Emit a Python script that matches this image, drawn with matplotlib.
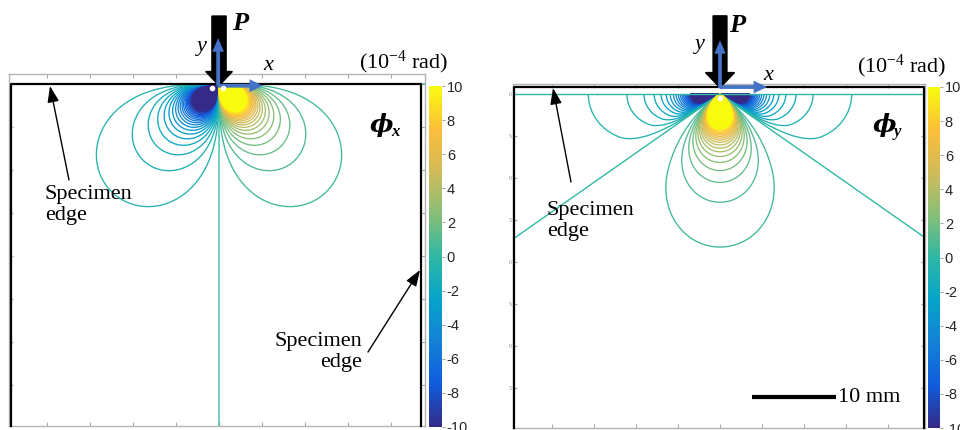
import numpy as np
import matplotlib.pyplot as plt
from matplotlib.colors import LinearSegmentedColormap, Normalize
from matplotlib.patches import FancyArrowPatch
import matplotlib.cm as cm

plt.rcParams['font.family'] = ['Liberation Serif', 'DejaVu Serif']
plt.rcParams['mathtext.fontset'] = 'custom'
plt.rcParams['mathtext.rm'] = 'Liberation Serif'
plt.rcParams['mathtext.it'] = 'Liberation Serif:italic'
plt.rcParams['axes.unicode_minus'] = False

# colour scale (10^-4 rad)
cbar_ticks = [-10, -8, -6, -4, -2, 0, 2, 4, 6, 8, 10]
phi_lim = 10.0
contour_levels = [-10.0, -9.5, -9.0, -8.5, -8.0, -7.5, -7.0, -6.5, -6.0, -5.5,
                  -5.0, -4.5, -4.0, -3.5, -3.0, -2.5, -2.0, -1.5, -1.0, -0.5,
                  0.0, 0.5, 1.0, 1.5, 2.0, 2.5, 3.0, 3.5, 4.0, 4.5, 5.0, 5.5,
                  6.0, 6.5, 7.0, 7.5, 8.0, 8.5, 9.0, 9.5, 10.0]

# point-load rotation fields, constants (mm^2 * 1e-4 rad)
Bx = 313.0            # phi_x = Bx * x*d / r^4
Ay = 166.0            # phi_y = Ay * f(angle) / r^2
neg_scale_y = 0.74    # weaker lobes along the loaded edge
zero_angle_y = 35.0   # deg below the edge where phi_y changes sign
warp_neg = 12.0       # deg
warp_pos = 20.0       # deg

# specimen edges (mm), depth measured downwards from the loaded edge
spec_left = [-24.2, -24.52]
spec_right = [23.5, 24.29]
spec_top = [0.0, -0.83]
xlims = [(-24.42, 23.95), (-24.64, 24.40)]
ylims = [(39.77, -1.16), (39.76, -1.19)]
xticks = [-20, -15, -10, -5, 0, 5, 10, 15, 20]
yticks = [0, 5, 10, 15, 20, 25, 30, 35]
ytick_labels_right = ['0', '5', '0', '5', '0', '5', '0', '5']
scale_bar_mm = 10
scale_bar_start = 3.8
scale_bar_depth = 36.1

parula = ['#352a87', '#0f5cdd', '#1481d6', '#06a4ca', '#2eb7a4',
          '#87bf77', '#d1bb59', '#fbbe3a', '#f9fb0e']
cmap = LinearSegmentedColormap.from_list('parula', parula)
norm = Normalize(vmin=-phi_lim, vmax=phi_lim)

W, H = 960, 430
fig = plt.figure(figsize=(9.6, 4.3), dpi=100)


def box(x0, y0, x1, y1):
    return [x0 / W, 1 - y1 / H, (x1 - x0) / W, (y1 - y0) / H]


def fx(px):
    return px / W


def fy(py):
    return 1 - py / H


x_mm = np.linspace(-24.9, 24.7, 1500)
d_mm = np.linspace(0.0, 40.0, 1300)
X, D = np.meshgrid(x_mm, d_mm)
R2 = X**2 + D**2 + 1e-9
phi_x = np.clip(Bx * X * D / R2**2, -1e3, 1e3)

# phi_y: Flamant angular shape, with the sign change pulled up to zero_angle_y
psi = np.degrees(np.arctan2(D, np.abs(X)))
shift = 45.0 - zero_angle_y
t_neg = np.clip((psi - (zero_angle_y - warp_neg)) / warp_neg, 0, 1)
t_pos = np.clip((psi - zero_angle_y) / warp_pos, 0, 1)
g = np.where(psi < zero_angle_y, psi + shift * t_neg**2, psi + shift * (1 - t_pos)**2)
f = -np.cos(np.radians(2 * g))
f = np.where(f < 0, neg_scale_y * f, f)
phi_y = np.clip(Ay * f / R2, -1e3, 1e3)

ax1 = fig.add_axes(box(9, 74, 425, 426))
ax2 = fig.add_axes(box(513, 84, 925, 428))
cax1 = fig.add_axes(box(429, 86, 442, 427))
cax2 = fig.add_axes(box(928, 87, 940, 428))

for i, (ax, Z) in enumerate([(ax1, phi_x), (ax2, phi_y)]):
    ax.contourf(X, D, Z, levels=[-1e4, -phi_lim], colors=[cmap(0.0)])
    ax.contourf(X, D, Z, levels=[phi_lim, 1e4], colors=[cmap(1.0)])
    ax.contour(X, D, Z, levels=contour_levels, cmap=cmap, norm=norm, linewidths=0.95)
    ax.set_xlim(*xlims[i])
    ax.set_ylim(*ylims[i])
    ax.set_xticks(xticks)
    ax.set_yticks(yticks)
    ax.tick_params(direction='in', length=3, color='#a8a8a8', top=True, right=True,
                   labelbottom=False, labelleft=False)
    for s in ax.spines.values():
        s.set_color('#b4b4b4')
        s.set_linewidth(1.0)
    # specimen edges
    ax.plot([spec_left[i], spec_left[i], spec_right[i], spec_right[i]],
            [ylims[i][0], spec_top[i], spec_top[i], ylims[i][0]],
            color='k', lw=1.6, clip_on=False, zorder=5)

ax2.tick_params(labelleft=True, labelsize=4, labelcolor='#808080', pad=1)
ax2.set_yticklabels(ytick_labels_right)
ax2.axhline(0.0, color=cmap(norm(0.0)), lw=1.0, zorder=4)

# scale bar
ax2.plot([scale_bar_start, scale_bar_start + scale_bar_mm], [scale_bar_depth, scale_bar_depth],
         color='k', lw=3, solid_capstyle='butt')
ax2.text(scale_bar_start + scale_bar_mm + 0.3, scale_bar_depth, '%d mm' % scale_bar_mm,
         fontsize=16, ha='left', va='center')

# load P and coordinate axes
blue = '#4472c4'
for ax, top, tip, hw, hl in [(ax1, -7.9, 0.2, 3.1, 1.65), (ax2, -9.3, -0.75, 3.45, 1.8)]:
    ax.arrow(0, top, 0, tip - top, width=1.65, head_width=hw, head_length=hl,
             length_includes_head=True, color='k', clip_on=False, zorder=6)
ax1.arrow(-0.1, 0.2, 0, -5.55, width=0.45, head_width=1.35, head_length=1.6,
          length_includes_head=True, color=blue, lw=0, clip_on=False, zorder=7)
ax1.arrow(-0.1, 0.2, 5.2, 0, width=0.45, head_width=1.5, head_length=1.55,
          length_includes_head=True, color=blue, lw=0, clip_on=False, zorder=7)
ax2.arrow(0, -0.7, 0, -5.7, width=0.45, head_width=1.35, head_length=1.6,
          length_includes_head=True, color=blue, lw=0, clip_on=False, zorder=7)
ax2.arrow(0, -0.83, 5.6, 0, width=0.45, head_width=1.5, head_length=1.6,
          length_includes_head=True, color=blue, lw=0, clip_on=False, zorder=7)
ax1.plot([-0.8, 0.5], [0.45, 0.5], 'o', color='white', ms=4, mec='none', zorder=8, clip_on=False)
ax2.plot([0.0], [0.45], 'o', color='white', ms=4, mec='none', zorder=8)

# colour bars
for cax in (cax1, cax2):
    cb = fig.colorbar(cm.ScalarMappable(norm=norm, cmap=cmap), cax=cax, ticks=cbar_ticks)
    cb.outline.set_visible(False)
    cax.tick_params(length=2, width=0.6, color='#909090', pad=1.5, labelsize=10.5,
                    labelcolor='#262626')
    cax.set_yticklabels([str(t) for t in cbar_ticks], family='Liberation Sans')

# labels
for px, py in [(240, 24), (737, 25)]:
    fig.text(fx(px), fy(py), 'P', fontsize=19, fontweight='bold', fontstyle='italic',
             ha='center', va='center')
for px, py in [(202, 46), (700, 44)]:
    fig.text(fx(px), fy(py), 'y', fontsize=16, fontstyle='italic', ha='center', va='center')
for px, py in [(268, 65), (768, 75)]:
    fig.text(fx(px), fy(py), 'x', fontsize=16, fontstyle='italic', ha='center', va='center')
for px, py in [(404, 62), (902, 66)]:
    fig.text(fx(px), fy(py), '(10$^{-4}$ rad)', fontsize=16, ha='center', va='center')
for px, py, sub in [(381, 125, 'x'), (884, 125, 'y')]:
    fig.text(fx(px), fy(py), '\u03d5', fontsize=18, fontweight='bold', fontstyle='italic',
             family='DejaVu Serif', ha='center', va='center')
    fig.text(fx(px + 10), fy(py + 7), sub, fontsize=12, fontweight='bold', fontstyle='italic',
             ha='left', va='center')

fig.text(fx(45), fy(205), 'Specimen\nedge', fontsize=16, ha='left', va='center', linespacing=1.15)
fig.text(fx(362), fy(352), 'Specimen\nedge', fontsize=16, ha='right', va='center',
         multialignment='right', linespacing=1.15)
fig.text(fx(547), fy(221), 'Specimen\nedge', fontsize=16, ha='left', va='center', linespacing=1.15)

arrow_kw = dict(arrowstyle='-|>,head_width=0.25,head_length=0.7', color='k', lw=1.0,
                mutation_scale=14, shrinkA=0, shrinkB=0)
for tip, tail in [((50, 86), (69, 180)), ((420, 270), (368, 352)), ((553, 88), (571, 182))]:
    fig.add_artist(FancyArrowPatch((fx(tail[0]), fy(tail[1])), (fx(tip[0]), fy(tip[1])),
                                   transform=fig.transFigure, **arrow_kw))

fig.savefig('out.png', dpi=100)
